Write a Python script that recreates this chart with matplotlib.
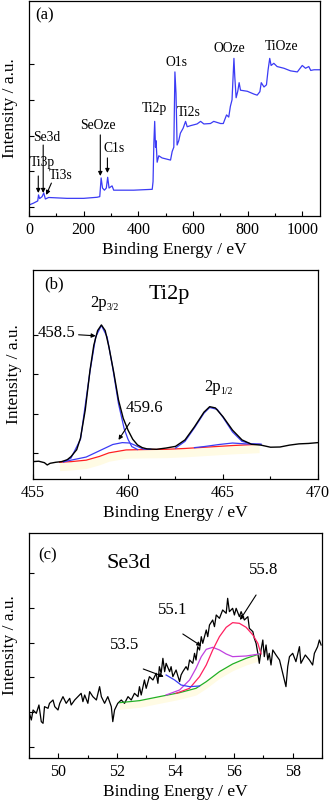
import matplotlib
matplotlib.use("Agg")
import matplotlib.pyplot as plt
from matplotlib.ticker import MultipleLocator, NullFormatter

plt.rcParams['font.family'] = ['Liberation Serif', 'DejaVu Serif']

# ---------------- Panel (a): survey spectrum ----------------
survey_x = [0, 17, 32, 35, 39, 48, 54, 60, 72, 139, 200, 249, 259, 264, 269, 276,
            283, 288, 293, 304, 310, 383, 451, 454, 457, 460, 463, 465, 469, 475,
            487, 518, 524, 530, 534, 538, 542, 548, 554, 564, 573, 579, 591, 615,
            628, 640, 664, 676, 701, 711, 723, 731, 737, 743, 750, 753, 758, 764,
            769, 774, 799, 823, 835, 845, 850, 860, 869, 875, 881, 886, 896, 908,
            933, 957, 982, 1000, 1012, 1024, 1031, 1043, 1065]
survey_y = [0.051, 0.06, 0.07, 0.098, 0.081, 0.09, 0.107, 0.079, 0.086, 0.082, 0.082,
            0.087, 0.09, 0.177, 0.13, 0.12, 0.13, 0.18, 0.13, 0.14, 0.12, 0.12, 0.124,
            0.16, 0.34, 0.44, 0.32, 0.35, 0.25, 0.28, 0.27, 0.26, 0.30, 0.32, 0.67,
            0.57, 0.33, 0.35, 0.385, 0.408, 0.44, 0.415, 0.42, 0.428, 0.44, 0.428,
            0.43, 0.44, 0.43, 0.43, 0.47, 0.46, 0.51, 0.54, 0.733, 0.65, 0.55, 0.58,
            0.62, 0.585, 0.58, 0.567, 0.562, 0.578, 0.62, 0.60, 0.61, 0.68, 0.733,
            0.70, 0.71, 0.695, 0.687, 0.675, 0.67, 0.70, 0.687, 0.695, 0.677, 0.68, 0.68]
survey_labels = ['Se3d', 'Ti3p', 'Ti3s', 'SeOze', 'C1s', 'Ti2p', 'Ti2s', 'O1s', 'OOze', 'TiOze']
survey_label_x = [16, 1, 74, 188, 272, 411, 540, 499, 675, 862]
survey_label_y = [0.367, 0.25, 0.19, 0.42, 0.316, 0.50, 0.48, 0.716, 0.777, 0.79]
survey_ticks = [0, 200, 400, 600, 800, 1000]

# ---------------- Panel (b): Ti2p ----------------
ti_x = [455.0, 455.3, 455.6, 455.75, 455.9, 456.2, 456.5, 456.8, 457.0, 457.3, 457.5,
        457.75, 458.0, 458.2, 458.4, 458.6, 458.8, 459.0, 459.25, 459.5, 459.75, 460.0,
        460.25, 460.5, 460.75, 461.0, 461.5, 462.0, 462.5, 463.0, 463.5, 464.0, 464.3,
        464.6, 465.0, 465.5, 466.0, 466.5, 467.0, 467.5, 468.0, 468.5, 469.0, 469.5, 470.0]
ti_y = [0.083, 0.085, 0.078, 0.067, 0.075, 0.080, 0.083, 0.092, 0.107, 0.14, 0.196,
        0.33, 0.52, 0.64, 0.71, 0.737, 0.71, 0.63, 0.51, 0.378, 0.29, 0.234, 0.19, 0.163,
        0.150, 0.144, 0.142, 0.148, 0.156, 0.187, 0.25, 0.32, 0.346, 0.34, 0.298, 0.234,
        0.187, 0.166, 0.162, 0.152, 0.153, 0.162, 0.168, 0.170, 0.174]
ti_bg_x = [456.4, 457.0, 457.8, 458.5, 459.0, 459.9, 461.0, 462.0, 463.0, 464.6, 465.5, 466.9]
ti_bg_y = [0.080, 0.083, 0.090, 0.108, 0.125, 0.139, 0.141, 0.142, 0.146, 0.155, 0.160, 0.166]
ti_p32_x = [456.6, 457.0, 457.5, 458.0, 458.3, 458.6, 458.9, 459.2, 459.5, 459.8, 460.0, 460.2, 460.5]
ti_p32_y = [0.082, 0.10, 0.19, 0.515, 0.68, 0.735, 0.68, 0.53, 0.36, 0.24, 0.19, 0.155, 0.141]
ti_sub_x = [456.6, 457.0, 457.8, 458.5, 459.2, 459.7, 460.1, 460.4, 460.8, 461.2]
ti_sub_y = [0.082, 0.09, 0.105, 0.135, 0.165, 0.174, 0.172, 0.16, 0.143, 0.142]
ti_p12_x = [462.5, 463.0, 463.5, 464.0, 464.3, 464.7, 465.0, 465.5, 466.0, 466.5, 467.0]
ti_p12_y = [0.148, 0.18, 0.245, 0.315, 0.342, 0.333, 0.295, 0.225, 0.18, 0.168, 0.166]
ti_sat_x = [463.5, 464.0, 464.8, 465.5, 466.2, 467.0]
ti_sat_y = [0.150, 0.155, 0.165, 0.172, 0.168, 0.166]
ti_ticks = [455, 460, 465, 470]

# ---------------- Panel (c): Se3d ----------------
se_x = [49.00, 49.08, 49.14, 49.25, 49.34, 49.42, 49.48, 49.53, 49.65, 49.70,
        49.82, 49.88, 49.99, 50.05, 50.16, 50.27, 50.39, 50.44, 50.56, 50.67,
        50.78, 50.84, 50.90, 51.01, 51.07, 51.18, 51.30, 51.41, 51.47, 51.58,
        51.69, 51.81, 51.86, 51.92, 52.03, 52.15, 52.26, 52.38, 52.49, 52.60,
        52.72, 52.77, 52.83, 52.94, 53.00, 53.11, 53.23, 53.34, 53.40, 53.45,
        53.51, 53.57, 53.63, 53.68, 53.80, 53.85, 53.91, 54.02, 54.14, 54.19,
        54.25, 54.36, 54.42, 54.48, 54.59, 54.65, 54.70, 54.76, 54.82, 54.88,
        54.93, 55.05, 55.10, 55.16, 55.27, 55.33, 55.39, 55.50, 55.61, 55.73,
        55.78, 55.84, 55.95, 56.01, 56.07, 56.18, 56.24, 56.35, 56.47, 56.52,
        56.64, 56.69, 56.75, 56.81, 56.86, 56.92, 56.98, 57.03, 57.09, 57.15,
        57.20, 57.26, 57.32, 57.43, 57.55, 57.66, 57.77, 57.83, 57.89, 58.00,
        58.11, 58.23, 58.28, 58.40, 58.43, 58.57, 58.68, 58.74, 58.85, 58.91,
        58.97]
se_y = [105, 80, 110, 100, 125, 75, 70, 120, 115, 130,
        140, 120, 110, 130, 150, 130, 145, 125, 140, 150,
        160, 135, 155, 130, 165, 150, 140, 180, 150, 130,
        150, 120, 75, 110, 130, 140, 130, 150, 140, 160,
        150, 180, 155, 200, 175, 210, 200, 220, 190, 240,
        220, 265, 225, 250, 225, 240, 210, 230, 195, 215,
        225, 240, 230, 260, 250, 280, 260, 300, 290, 330,
        310, 350, 330, 365, 380, 360, 395, 385, 410, 400,
        445, 405, 415, 395, 415, 390, 405, 380, 390, 355,
        345, 325, 310, 280, 250, 290, 320, 270, 305, 260,
        280, 245, 290, 275, 260, 220, 180, 240, 270, 280,
        255, 300, 250, 270, 275, 260, 245, 280, 300, 320,
        305]
se_bg_x = [52.09, 52.77, 53.45, 54.14, 54.70, 55.05, 55.50, 55.95, 56.41, 56.86]
se_bg_y = [132, 138, 150, 162, 175, 195, 225, 248, 265, 278]
se_p1_x = [53.68, 54.14, 54.48, 54.70, 54.88, 55.05, 55.27, 55.50, 55.73, 55.95, 56.41, 56.86]
se_p1_y = [155, 170, 200, 235, 270, 292, 298, 290, 278, 270, 272, 278]
se_p2_x = [54.02, 54.48, 54.82, 55.05, 55.27, 55.50, 55.73, 55.95, 56.18, 56.41, 56.64, 56.81, 56.92]
se_p2_y = [160, 175, 210, 245, 290, 330, 358, 372, 370, 358, 335, 310, 278]
se_p3_x = [53.68, 53.97, 54.19, 54.48, 54.82]
se_p3_y = [215, 200, 185, 180, 182]
se_ticks = [50, 52, 54, 56, 58]

BLUE = '#3b3bf5'


def style(ax, xmin, xmax, major, minor, ylo, yhi, yt):
    ax.set_xlim(xmin, xmax)
    ax.set_ylim(ylo, yhi)
    ax.xaxis.set_major_locator(MultipleLocator(major))
    ax.xaxis.set_minor_locator(MultipleLocator(minor))
    ax.set_yticks(yt)
    ax.yaxis.set_major_formatter(NullFormatter())
    ax.tick_params(direction='in', which='both', top=False, right=False,
                   labelsize=11.5, pad=4)
    ax.tick_params(which='major', length=3.5, width=0.8)
    ax.tick_params(which='minor', length=2, width=0.8)
    for s in ax.spines.values():
        s.set_linewidth(0.9)
    ax.set_xlabel('Binding Energy / eV', fontsize=12.5, labelpad=3)
    ax.set_ylabel('Intensity / a.u.', fontsize=12.5, labelpad=4)


fig = plt.figure(figsize=(3.32, 8.05), dpi=100)

# (a)
axa = fig.add_axes([0.0873, 0.7317, 0.8766, 0.2671])
axa.plot(survey_x, survey_y, color=BLUE, lw=0.9)
style(axa, 0, 1065, 200, 100, 0, 1, [0.042, 0.208, 0.374, 0.54, 0.706])
axa.set_xticks(survey_ticks)
for lab, lx, ly in zip(survey_labels, survey_label_x, survey_label_y):
    axa.text(lx, ly, lab, fontsize=9.8, ha='left', va='center')
axa.text(0.02, 0.935, '(a)', transform=axa.transAxes, fontsize=12, va='center')
arrows_a = [((52, 0.33), (52, 0.107)), ((34, 0.186), (34, 0.107)),
            ((82, 0.153), (63, 0.098)), ((261, 0.377), (261, 0.186)),
            ((287, 0.27), (287, 0.20))]
for (x0, y0), (x1, y1) in arrows_a:
    axa.annotate('', xy=(x1, y1), xytext=(x0, y0),
                 arrowprops=dict(arrowstyle='-|>', color='black', lw=0.8,
                                 mutation_scale=6, shrinkA=0, shrinkB=0))

# (b)
axb = fig.add_axes([0.0994, 0.405, 0.8584, 0.2596])
axb.fill_between(ti_bg_x, [v - 0.04 for v in ti_bg_y], ti_bg_y, color='#fffbe4', lw=0)
axb.plot(ti_bg_x, ti_bg_y, color='#ff2020', lw=0.9)
axb.plot(ti_sub_x, ti_sub_y, color=BLUE, lw=0.9)
axb.plot(ti_sat_x, ti_sat_y, color=BLUE, lw=0.9)
axb.plot(ti_p32_x, ti_p32_y, color=BLUE, lw=0.9)
axb.plot(ti_p12_x, ti_p12_y, color=BLUE, lw=0.9)
axb.plot(ti_x, ti_y, color='black', lw=1.0)
style(axb, 455, 470, 5, 2.5, 0, 1, [0.126, 0.313, 0.5, 0.687])
axb.set_xticks(ti_ticks)
axb.text(0.04, 0.93, '(b)', transform=axb.transAxes, fontsize=12, va='center')
axb.text(461.1, 0.885, 'Ti2p', fontsize=16, va='center')
axb.text(458.0, 0.84, '2p', fontsize=12, va='center')
axb.text(458.85, 0.82, '3/2', fontsize=7, va='center')
axb.text(464.0, 0.44, '2p', fontsize=12, va='center')
axb.text(464.85, 0.42, '1/2', fontsize=7, va='center')
axb.text(455.25, 0.70, '458.5', fontsize=12, va='center')
axb.text(459.9, 0.34, '459.6', fontsize=12, va='center')
axb.annotate('', xy=(458.3, 0.685), xytext=(457.4, 0.69),
             arrowprops=dict(arrowstyle='-|>', color='black', lw=0.8, mutation_scale=6,
                             shrinkA=0, shrinkB=0))
axb.annotate('', xy=(459.5, 0.187), xytext=(460.1, 0.27),
             arrowprops=dict(arrowstyle='-|>', color='black', lw=0.8, mutation_scale=6,
                             shrinkA=0, shrinkB=0))

# (c)
axc = fig.add_axes([0.0873, 0.0584, 0.8826, 0.2795])
axc.fill_between(se_bg_x, [v - 20 for v in se_bg_y], se_bg_y, color='#fffbe4', lw=0)
axc.plot(se_x, se_y, color='black', lw=0.9)
axc.plot(se_bg_x, se_bg_y, color='#22b022', lw=0.9)
axc.plot(se_p1_x, se_p1_y, color='#c040e0', lw=0.9)
axc.plot(se_p2_x, se_p2_y, color='#ff2060', lw=0.9)
axc.plot(se_p3_x, se_p3_y, color=BLUE, lw=0.9)
style(axc, 49, 59, 2, 1, -34, 641, [0, 104, 208, 312, 416, 520])
axc.set_xticks(se_ticks)
axc.text(0.03, 0.90, '(c)', transform=axc.transAxes, fontsize=12, va='center')
axc.text(51.65, 548, 'Se3d', fontsize=16, va='center')
axc.text(56.5, 530, '55.8', fontsize=12, va='center')
axc.text(53.4, 410, '55.1', fontsize=12, va='center')
axc.text(51.75, 305, '53.5', fontsize=12, va='center')
arrows_c = [((56.75, 455), (56.2, 380)), ((54.25, 338), (54.88, 302)),
            ((52.9, 233), (53.6, 210))]
for (x0, y0), (x1, y1) in arrows_c:
    axc.annotate('', xy=(x1, y1), xytext=(x0, y0),
                 arrowprops=dict(arrowstyle='-|>', color='black', lw=0.8,
                                 mutation_scale=6, shrinkA=0, shrinkB=0))

fig.savefig('out.png', dpi=100)
